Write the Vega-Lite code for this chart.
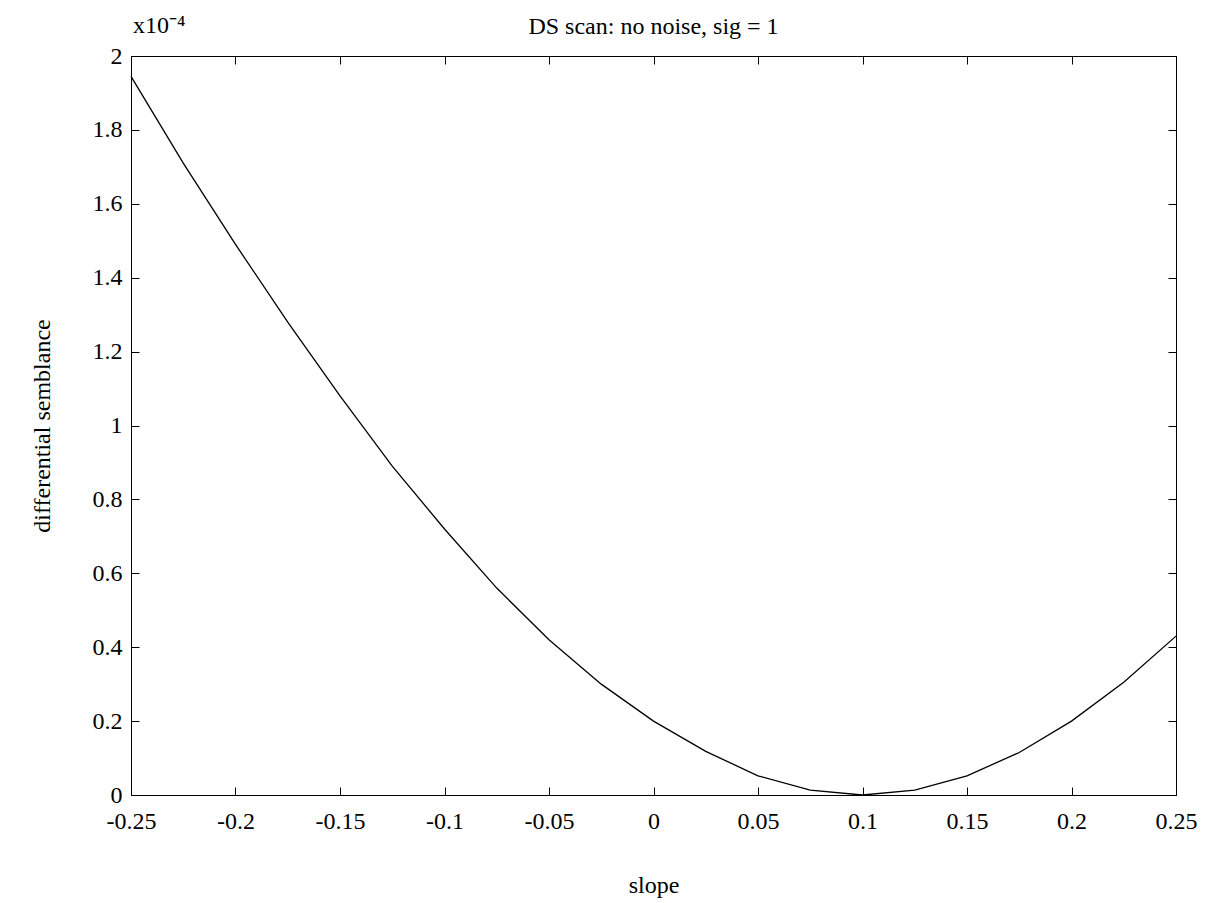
{
  "$schema": "https://vega.github.io/schema/vega-lite/v6.json",
  "width": 1045,
  "height": 739,
  "autosize": {"type": "none"},
  "padding": {"left": 131, "top": 56, "right": 32, "bottom": 108},
  "background": "white",
  "title": {"text": "DS scan: no noise, sig = 1", "font": "Liberation Serif", "fontSize": 24, "fontWeight": "normal", "color": "black", "offset": -44, "baseline": "alphabetic", "anchor": "middle"},
  "config": {
    "view": {"stroke": "black", "strokeWidth": 1},
    "axis": {"grid": false, "domainColor": "black", "tickColor": "black", "labelColor": "black", "titleColor": "black", "labelFont": "Liberation Serif", "titleFont": "Liberation Serif", "labelFontSize": 24, "titleFontSize": 24, "titleFontWeight": "normal", "tickSize": -8, "tickWidth": 1}
  },
  "data": {"values": [
    {"slope": -0.25, "ds": 1.945},
    {"slope": -0.225, "ds": 1.71},
    {"slope": -0.2, "ds": 1.49},
    {"slope": -0.175, "ds": 1.28},
    {"slope": -0.15, "ds": 1.08},
    {"slope": -0.125, "ds": 0.89},
    {"slope": -0.1, "ds": 0.72},
    {"slope": -0.075, "ds": 0.56},
    {"slope": -0.05, "ds": 0.42},
    {"slope": -0.025, "ds": 0.30},
    {"slope": 0, "ds": 0.20},
    {"slope": 0.025, "ds": 0.118},
    {"slope": 0.05, "ds": 0.052},
    {"slope": 0.075, "ds": 0.013},
    {"slope": 0.1, "ds": 0.0},
    {"slope": 0.125, "ds": 0.013},
    {"slope": 0.15, "ds": 0.052},
    {"slope": 0.175, "ds": 0.115},
    {"slope": 0.2, "ds": 0.2},
    {"slope": 0.225, "ds": 0.305},
    {"slope": 0.25, "ds": 0.43}
  ]},
  "layer": [
    {
      "mark": {"type": "line", "color": "black", "strokeWidth": 1.3},
      "encoding": {
        "x": {"field": "slope", "type": "quantitative", "scale": {"domain": [-0.25, 0.25], "nice": false, "zero": false},
              "axis": {"orient": "bottom", "title": "slope", "values": [-0.25, -0.2, -0.15, -0.1, -0.05, 0, 0.05, 0.1, 0.15, 0.2, 0.25], "labelExpr": "replace(format(datum.value, '~g'), '−', '-')", "labelPadding": 22, "titlePadding": 40, "labelFlush": false, "labelOverlap": false}},
        "y": {"field": "ds", "type": "quantitative", "scale": {"domain": [0, 2], "nice": false},
              "axis": {"orient": "left", "title": "differential semblance", "values": [0, 0.2, 0.4, 0.6, 0.8, 1, 1.2, 1.4, 1.6, 1.8, 2], "labelExpr": "format(datum.value, '~g')", "labelPadding": 17, "titlePadding": 38, "labelFlush": false, "labelOverlap": false}}
      }
    },
    {
      "mark": {"type": "line", "opacity": 0},
      "encoding": {
        "x": {"field": "slope", "type": "quantitative", "scale": {"domain": [-0.25, 0.25], "nice": false, "zero": false},
              "axis": {"orient": "top", "title": null, "labels": false, "values": [-0.25, -0.2, -0.15, -0.1, -0.05, 0, 0.05, 0.1, 0.15, 0.2, 0.25]}},
        "y": {"field": "ds", "type": "quantitative", "scale": {"domain": [0, 2], "nice": false},
              "axis": {"orient": "right", "title": null, "labels": false, "values": [0, 0.2, 0.4, 0.6, 0.8, 1, 1.2, 1.4, 1.6, 1.8, 2]}}
      }
    },
    {
      "data": {"values": [{"label": "x10⁻⁴", "x": -0.25, "y": 2}]},
      "mark": {"type": "text", "align": "left", "baseline": "alphabetic", "dx": 2, "dy": -23, "font": "Liberation Serif", "fontSize": 24, "color": "black"},
      "encoding": {
        "x": {"field": "x", "type": "quantitative", "axis": null},
        "y": {"field": "y", "type": "quantitative", "axis": null},
        "text": {"field": "label"}
      }
    }
  ],
  "resolve": {"axis": {"x": "independent", "y": "independent"}}
}
